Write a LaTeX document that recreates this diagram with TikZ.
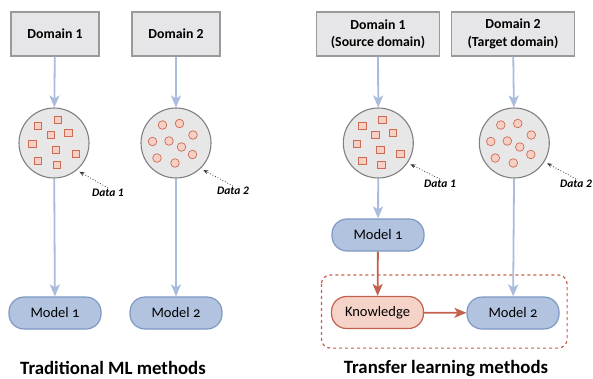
\documentclass[tikz,border=0pt]{standalone}
\usepackage{fontspec}
\setmainfont{Carlito}
\usetikzlibrary{positioning, arrows.meta, shapes}

\definecolor{boxgray}{HTML}{E6E6E8}
\definecolor{boxline}{HTML}{9A9A9A}
\definecolor{flowblue}{HTML}{A9BCDC}
\definecolor{modelfill}{HTML}{B2C3DF}
\definecolor{modelline}{HTML}{7D99C2}
\definecolor{knowfill}{HTML}{F5D3C8}
\definecolor{knowline}{HTML}{C4614C}
\definecolor{dotfill}{HTML}{F6D0C4}
\definecolor{dotline}{HTML}{CF6A55}
\definecolor{poolfill}{HTML}{E7E7E8}

\tikzset{
    %Define style for domain boxes
    domainbox/.style={
           rectangle,
           draw=boxline, line width=1.3pt,
           fill=boxgray,
           minimum width=88pt,
           minimum height=44pt,
           align=center,
           font=\fontsize{13.8}{17.5}\selectfont\bfseries},
 %
    pool/.style={
           circle,
           draw=gray, line width=1.1pt,
           fill=poolfill,
           minimum size=70pt},
 %
    modelbox/.style={
           rectangle,
           rounded corners=15pt,
           draw=modelline, line width=1.2pt,
           fill=modelfill,
           minimum width=92pt,
           minimum height=32pt,
           font=\fontsize{14.5}{16}\selectfont\addfontfeatures{Numbers=OldStyle}},
 %
    knowbox/.style={
           modelbox,
           draw=knowline,
           fill=knowfill},
 %
    sqdot/.style={
           rectangle, draw=dotline, fill=dotfill, line width=0.7pt,
           minimum size=7.5pt, inner sep=0pt},
    rddot/.style={
           circle, draw=dotline, fill=dotfill, line width=0.7pt,
           minimum size=8.6pt, inner sep=0pt},
 %
    datalbl/.style={font=\fontsize{11.5}{13}\selectfont\bfseries\itshape, inner sep=1pt},
    title/.style={font=\fontsize{18.8}{21}\selectfont\bfseries},
 %
    % Define arrow styles
    flow/.style={
           -{Stealth[length=12pt, width=10pt, inset=3pt]},
           draw=flowblue, line width=1.8pt},
    transfer/.style={
           -{Stealth[length=12pt, width=10pt, inset=3pt]},
           draw=knowline, line width=1.8pt},
    pointer/.style={
           -{Stealth[length=5pt, width=4pt]},
           dotted, thick, black!80,
           shorten >=3pt}
}

% squares and round dots scattered in a pool
\newcommand{\squaredots}[1]{
    \foreach \dx/\dy in {-16/-17, 4/-23, -3/-8, 14.5/-10, -21.5/1, 2/7, 22/11, -16/18, 3/22}
        \node[sqdot] at ([shift={(\dx,\dy)}]#1.center) {};
}
\newcommand{\rounddots}[1]{
    \foreach \dx/\dy in {-13.5/-18, 3.5/-19.5, 17/-8, -23.5/-1.5, -7/-2, 5.5/4, 16.5/11.5, -19/15, -1/20}
        \node[rddot] at ([shift={(\dx,\dy)}]#1.center) {};
}

\begin{document}
\begin{tikzpicture}[x=1pt, y=-1pt]
  \useasboundingbox (0,0) rectangle (593,378);

  % traditional ML
  \node[domainbox] (dom1) at (55,34) {Domain 1};
  \node[domainbox] (dom2) at (176,34) {Domain 2};
  \node[pool] (pool1) at (54,143) {};
  \node[pool] (pool2) at (176,143) {};
  \squaredots{pool1}
  \rounddots{pool2}
  \node[datalbl] (data1) at (108,193) {Data 1};
  \node[datalbl] (data2) at (233,191) {Data 2};
  \node[modelbox] (model1) at (55,313) {Model 1};
  \node[modelbox] (model2) at (176,313) {Model 2};

  \draw[flow] (dom1) -- (pool1);
  \draw[flow] (dom2) -- (pool2);
  \draw[flow] (pool1) -- (model1);
  \draw[flow] (pool2) -- (model2);
  \draw[pointer] (data1.north) -- (pool1.-50);
  \draw[pointer] (data2.north) -- (pool2.-46);

  \node[title] (tradtitle) at (113,368) {Traditional ML methods};

  % transfer learning
  \node[domainbox, minimum width=123pt] (tdom1) at (378,34) {Domain 1\\(Source domain)};
  \node[domainbox, minimum width=123pt] (tdom2) at (513,34) {Domain 2\\(Target domain)};
  \node[pool] (tpool1) at (378.3,143) {};
  \node[pool] (tpool2) at (514.3,143) {};
  \squaredots{tpool1}
  \rounddots{tpool2}
  \node[datalbl] (tdata1) at (440,184) {Data 1};
  \node[datalbl] (tdata2) at (576,184) {Data 2};
  \node[modelbox] (tmodel1) at (378,235) {Model 1};
  \node[knowbox] (know) at (377.5,312.5) {Knowledge};
  \node[modelbox] (tmodel2) at (513,313) {Model 2};

  \draw[flow] (tdom1) -- (tpool1);
  \draw[flow] (tdom2) -- (tpool2);
  \draw[flow] (tpool1) -- (tmodel1);
  \draw[flow] (tpool2) -- (tmodel2);
  \draw[transfer] (tmodel1) -- (know);
  \draw[transfer] (know) -- (tmodel2);
  \draw[pointer] (tdata1.north) -- (tpool1.-34);
  \draw[pointer] (tdata2.north) -- (tpool2.-32);

  \draw[knowline, dashed, line width=1.2pt, rounded corners=9pt]
     ([shift={(-9.5,-21)}]know.north west) rectangle ([shift={(7.5,18.5)}]tmodel2.south east);

  \node[title] (transtitle) at (446,368) {Transfer learning methods};
\end{tikzpicture}
\end{document}
